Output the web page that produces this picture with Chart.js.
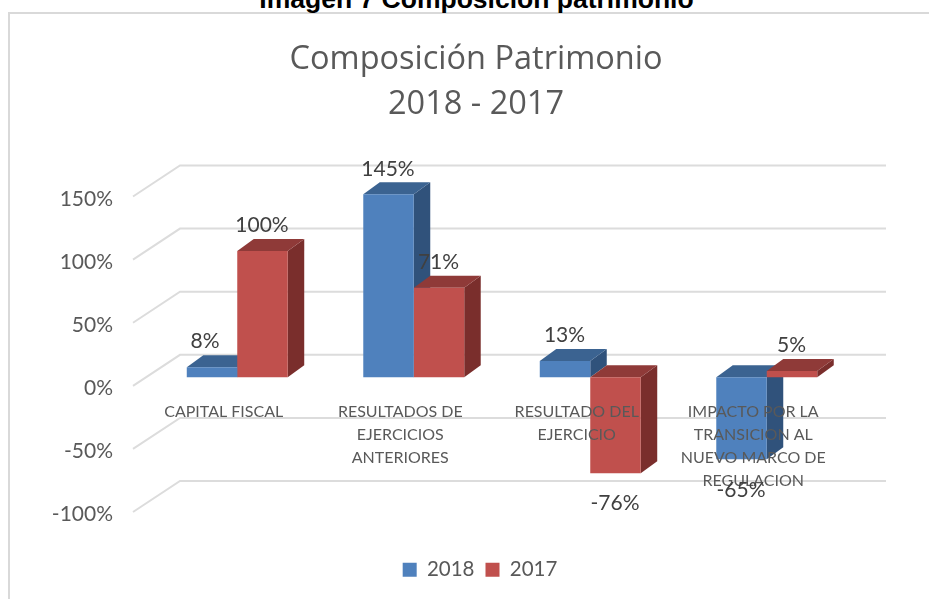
<!DOCTYPE html>
<html>
<head>
<meta charset="utf-8">
<style>
html,body{margin:0;padding:0;background:#fff;width:929px;height:599px;overflow:hidden;position:relative}
#heading{position:absolute;left:0;width:953px;top:-16px;line-height:30px;text-align:center;font-family:"Liberation Sans",Arial,sans-serif;font-weight:bold;font-size:26.5px;color:#000;white-space:nowrap}
#frame{position:absolute;left:8px;top:12px;width:1040px;height:600px;border:2px solid #D9D9D9;box-sizing:border-box;background:#fff}
#wrap{position:absolute;left:9px;top:14px;width:934px;height:585px}
</style>
<script src="https://cdn.jsdelivr.net/npm/chart.js@4"></script>
</head>
<body>
<div id="frame"></div>
<div id="heading">Imagen 7 Composición patrimonio</div>
<div id="wrap"><canvas id="c"></canvas></div>
<script>
const categories = [
  ['CAPITAL FISCAL'],
  ['RESULTADOS DE','EJERCICIOS','ANTERIORES'],
  ['RESULTADO DEL','EJERCICIO'],
  ['IMPACTO POR LA','TRANSICION AL','NUEVO MARCO DE','REGULACION']
];
const values2018 = [8, 145, 13, -65];
const values2017 = [100, 71, -76, 5];
const yTickValues = [-100, -50, 0, 50, 100, 150];
const titleLines = ['Composición Patrimonio', '2018 - 2017'];

const BAR_DX = 16.5, BAR_DY = 12;
const GRID_FRONT_DX = -16, GRID_BACK_DX = 31, GRID_FRONT_DY = 8.5, GRID_BACK_DY = -22.5;
const FACE = ['#3B6391', '#8F3A38'];
const SIDE = ['#30527B', '#7A2E2C'];

function poly(ctx, pts, fill){
  ctx.beginPath();
  pts.forEach((p,i)=> i ? ctx.lineTo(p[0],p[1]) : ctx.moveTo(p[0],p[1]));
  ctx.closePath();
  ctx.fillStyle = fill;
  ctx.fill();
}

const scene3d = {
  id:'scene3d',
  afterLayout(chart){
    chart.legend.left += 4;
    chart.legend.right += 4;
  },
  beforeDatasetsDraw(chart){
    const {ctx, chartArea:a, scales:{y}} = chart;
    ctx.save();
    ctx.strokeStyle = '#DCDCDC';
    ctx.lineWidth = 2;
    yTickValues.forEach(v=>{
      const py = y.getPixelForValue(v);
      ctx.beginPath();
      ctx.moveTo(a.left+GRID_FRONT_DX, py+GRID_FRONT_DY);
      ctx.lineTo(a.left+GRID_BACK_DX, py+GRID_BACK_DY);
      ctx.lineTo(a.right+GRID_BACK_DX, py+GRID_BACK_DY);
      ctx.stroke();
    });
    chart.data.datasets.forEach((ds,i)=>{
      chart.getDatasetMeta(i).data.forEach(el=>{
        const l = el.x-el.width/2, r = el.x+el.width/2;
        const t = Math.min(el.y,el.base), b = Math.max(el.y,el.base);
        poly(ctx,[[r,t],[r+BAR_DX,t-BAR_DY],[r+BAR_DX,b-BAR_DY],[r,b]],SIDE[i]);
        poly(ctx,[[l,t],[l+BAR_DX,t-BAR_DY],[r+BAR_DX,t-BAR_DY],[r,t]],FACE[i]);
      });
    });
    ctx.restore();
  },
  afterDraw(chart){
    const {ctx} = chart;
    ctx.save();
    ctx.font = '21px Lato';
    ctx.fillStyle = '#404040';
    ctx.textAlign = 'center';
    ctx.textBaseline = 'middle';
    chart.data.datasets.forEach((ds,i)=>{
      chart.getDatasetMeta(i).data.forEach((el,j)=>{
        const v = ds.data[j];
        const py = v>=0 ? el.y-25.5 : el.y+30.5;
        const px = (i===0 && j===0) ? el.x-7 : el.x-0.5;
        ctx.fillText(v+'%', px, py);
      });
    });
    ctx.restore();
  }
};

new Chart(document.getElementById('c'),{
  type:'bar',
  plugins:[scene3d],
  data:{
    labels:categories,
    datasets:[
      {label:'2018',data:values2018,backgroundColor:'#4F81BD',xAxisID:'x',yAxisID:'y',categoryPercentage:0.572,barPercentage:1},
      {label:'2017',data:values2017,backgroundColor:'#C0504D',xAxisID:'x',yAxisID:'y',categoryPercentage:0.572,barPercentage:1}
    ]
  },
  options:{
    responsive:true,
    maintainAspectRatio:false,
    animation:false,
    layout:{padding:{left:0,right:0,top:0,bottom:9}},
    plugins:{
      tooltip:{enabled:false},
      title:{display:true,text:titleLines,color:'#595959',
        font:{family:'Open Sans',size:32.5,weight:'normal',lineHeight:1.385},
        padding:{top:23,bottom:61}},
      legend:{position:'bottom',
        labels:{color:'#595959',font:{family:'Lato',size:20.5},boxWidth:14,boxHeight:14,padding:11}}
    },
    scales:{
      x:{type:'category',position:{y:0},offset:true,
        grid:{display:false,drawTicks:false},border:{display:false},
        ticks:{z:1,color:'#595959',font:{family:'Lato',size:16,lineHeight:1.44},padding:23,labelOffset:-13.5,
          maxRotation:0,minRotation:0,autoSkip:false}},
      xSpacer:{type:'linear',axis:'x',position:'bottom',min:0,max:1,display:true,
        grid:{display:false},border:{display:false},ticks:{display:false},
        afterFit(a){a.height=45;}},
      y:{type:'linear',position:'left',min:-100,max:150,display:false},
      ySpacer:{type:'linear',axis:'y',position:'right',min:0,max:1,display:true,
        grid:{display:false},border:{display:false},ticks:{display:false},
        afterFit(a){a.width=88;}},
      yLabels:{type:'linear',axis:'y',position:'left',min:-91.3,max:158.7,
        grid:{display:false},border:{display:false},
        afterBuildTicks(a){a.ticks = yTickValues.map(value=>({value}));},
        afterFit(a){a.width=140;},
        ticks:{color:'#595959',font:{family:'Lato',size:21},padding:28,autoSkip:false,
          callback:v=>v+'%'}}
    }
  }
});
</script>
</body>
</html>
